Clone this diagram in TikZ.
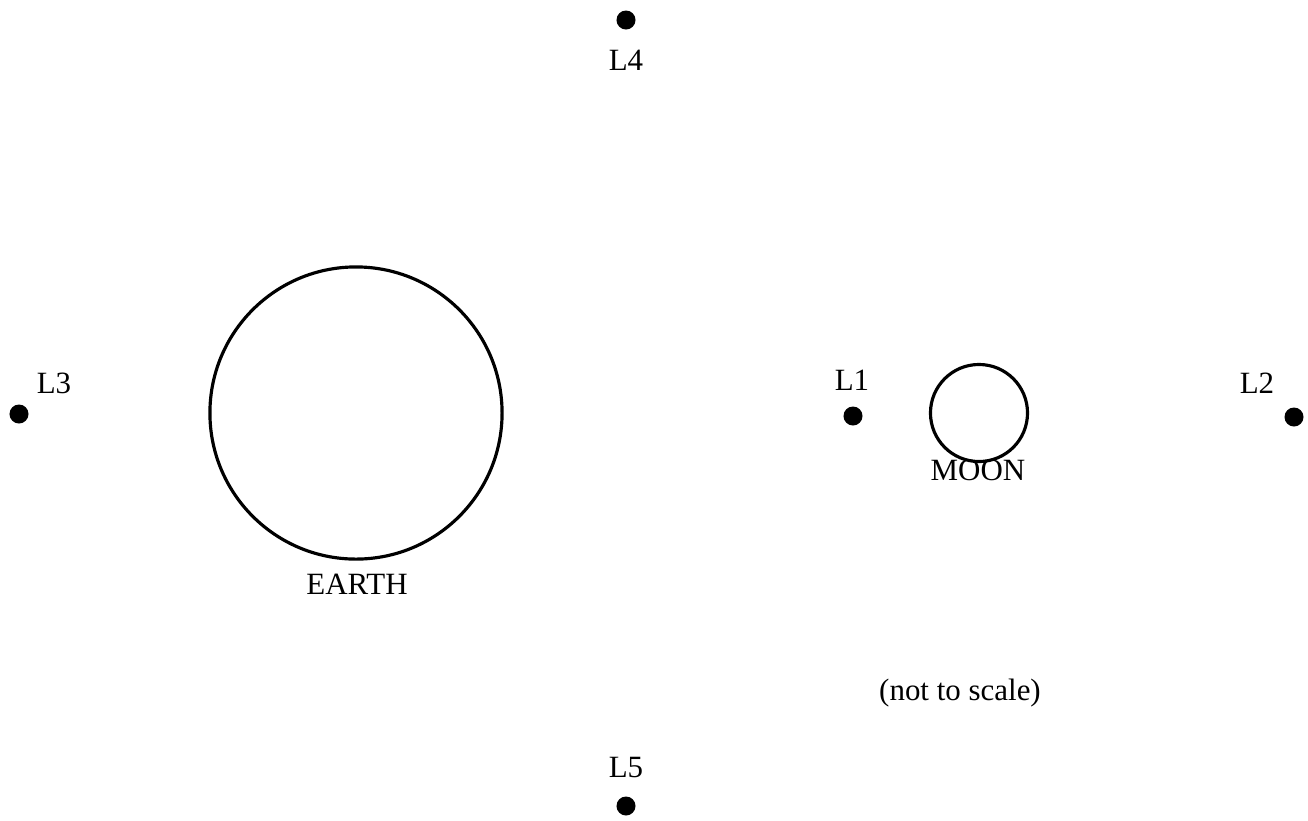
\documentclass[tikz,border=0pt]{standalone}
\usepackage{fontspec}
\setmainfont{Liberation Serif}
\definecolor{plotink}{HTML}{000000}

\begin{document}
\begin{tikzpicture}[x=0.01cm, y=-0.01cm,
    every node/.style={font=\fontsize{8.8}{10}\selectfont, text=plotink},
    lagpt/.style={circle, fill=plotink, inner sep=0pt, minimum size=0.19cm},
    body/.style={circle, draw=plotink, line width=0.9pt, inner sep=0pt},
    lbl/.style={anchor=base, inner sep=0pt}]

  \useasboundingbox (0,0) rectangle (1308,820);

  % the two bodies
  \node[body, minimum size=2.92cm] (earth) at (356,413) {};
  \node[body, minimum size=0.97cm] (moon) at (979,413) {};
  \node[lbl] (earthlbl) at (357,594) {EARTH};
  \node[lbl] (moonlbl) at (978,480) {MOON};

  % Lagrange points
  \node[lagpt] (l1) at (853,416) {};
  \node[lagpt] (l2) at (1294,417) {};
  \node[lagpt] (l3) at (19,414) {};
  \node[lagpt] (l4) at (626,20) {};
  \node[lagpt] (l5) at (626,806) {};
  \node[lbl] (l1lbl) at (852,390) {L1};
  \node[lbl] (l2lbl) at (1257,393) {L2};
  \node[lbl] (l3lbl) at (54,393) {L3};
  \node[lbl] (l4lbl) at (626,70) {L4};
  \node[lbl] (l5lbl) at (626,777) {L5};

  \node[lbl] (note) at (960,700) {(not to scale)};

\end{tikzpicture}
\end{document}
